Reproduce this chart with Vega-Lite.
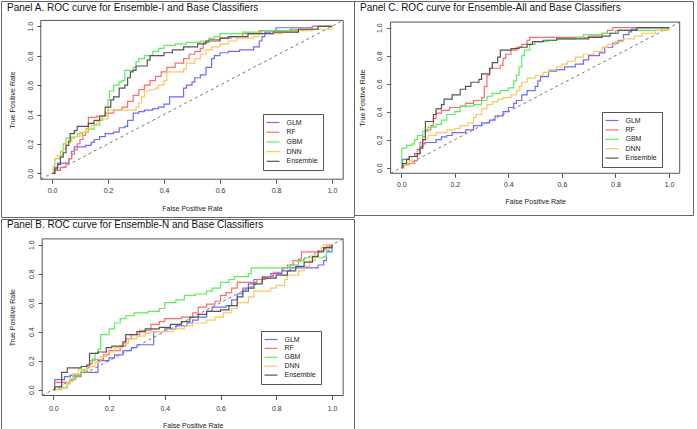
{
"$schema":"https://vega.github.io/schema/vega-lite/v6.json",
"padding":0,"spacing":0,"background":"white",
"config":{"view":{"stroke":"#666","strokeWidth":1},"font":"Liberation Sans",
"axis":{"labelFont":"Liberation Sans","titleFont":"Liberation Sans","labelFontSize":7,"titleFontSize":7,"titleFontWeight":"normal","labelColor":"#333","titleColor":"#222","tickColor":"#555","labelFlush":false,"labelOverlap":false,"domain":false,"grid":false,"format":".1f","tickSize":4},
"legend":{"labelFont":"Liberation Sans","labelFontSize":7,"labelColor":"#222","orient":"none","title":null,"symbolType":"M-2.6,0H2.6","symbolSize":25,"symbolStrokeWidth":1.2,"symbolOffset":1.5,"labelOffset":10,"padding":5,"strokeColor":"#555","fillColor":"white"},
"title":{"font":"Liberation Sans","fontSize":10,"fontWeight":"normal","color":"#111","anchor":"start","frame":"group","baseline":"alphabetic","dx":6}},
"datasets":{
"box":[{"x":-0.04,"x2":1.04,"y":-0.04,"y2":1.04}],
"diag":[{"x":-0.04,"y":-0.04},{"x":1.04,"y":1.04}],
"A":[
{"s":"GLM","x":0,"y":0},{"s":"GLM","x":0.01,"y":0.04},{"s":"GLM","x":0.02,"y":0.07},{"s":"GLM","x":0.05,"y":0.07},{"s":"GLM","x":0.06,"y":0.1},{"s":"GLM","x":0.07,"y":0.15},{"s":"GLM","x":0.08,"y":0.18},{"s":"GLM","x":0.11,"y":0.18},{"s":"GLM","x":0.12,"y":0.19},{"s":"GLM","x":0.14,"y":0.21},{"s":"GLM","x":0.15,"y":0.23},{"s":"GLM","x":0.17,"y":0.25},{"s":"GLM","x":0.19,"y":0.27},{"s":"GLM","x":0.22,"y":0.28},{"s":"GLM","x":0.24,"y":0.31},{"s":"GLM","x":0.26,"y":0.32},{"s":"GLM","x":0.27,"y":0.36},{"s":"GLM","x":0.29,"y":0.41},{"s":"GLM","x":0.31,"y":0.42},{"s":"GLM","x":0.33,"y":0.43},{"s":"GLM","x":0.36,"y":0.44},{"s":"GLM","x":0.38,"y":0.45},{"s":"GLM","x":0.4,"y":0.47},{"s":"GLM","x":0.42,"y":0.52},{"s":"GLM","x":0.47,"y":0.58},{"s":"GLM","x":0.48,"y":0.6},{"s":"GLM","x":0.5,"y":0.62},{"s":"GLM","x":0.51,"y":0.65},{"s":"GLM","x":0.53,"y":0.67},{"s":"GLM","x":0.55,"y":0.72},{"s":"GLM","x":0.57,"y":0.78},{"s":"GLM","x":0.58,"y":0.8},{"s":"GLM","x":0.6,"y":0.82},{"s":"GLM","x":0.63,"y":0.83},{"s":"GLM","x":0.67,"y":0.84},{"s":"GLM","x":0.72,"y":0.86},{"s":"GLM","x":0.74,"y":0.9},{"s":"GLM","x":0.75,"y":0.93},{"s":"GLM","x":0.76,"y":0.96},{"s":"GLM","x":0.78,"y":0.97},{"s":"GLM","x":0.8,"y":0.99},{"s":"GLM","x":0.93,"y":1},{"s":"GLM","x":1,"y":1},
{"s":"RF","x":0,"y":0},{"s":"RF","x":0.01,"y":0.02},{"s":"RF","x":0.03,"y":0.04},{"s":"RF","x":0.05,"y":0.07},{"s":"RF","x":0.06,"y":0.1},{"s":"RF","x":0.07,"y":0.13},{"s":"RF","x":0.08,"y":0.16},{"s":"RF","x":0.09,"y":0.2},{"s":"RF","x":0.1,"y":0.23},{"s":"RF","x":0.11,"y":0.26},{"s":"RF","x":0.12,"y":0.3},{"s":"RF","x":0.13,"y":0.38},{"s":"RF","x":0.16,"y":0.39},{"s":"RF","x":0.19,"y":0.41},{"s":"RF","x":0.22,"y":0.43},{"s":"RF","x":0.25,"y":0.45},{"s":"RF","x":0.27,"y":0.49},{"s":"RF","x":0.29,"y":0.53},{"s":"RF","x":0.31,"y":0.57},{"s":"RF","x":0.33,"y":0.6},{"s":"RF","x":0.35,"y":0.63},{"s":"RF","x":0.37,"y":0.66},{"s":"RF","x":0.39,"y":0.69},{"s":"RF","x":0.41,"y":0.72},{"s":"RF","x":0.44,"y":0.75},{"s":"RF","x":0.47,"y":0.78},{"s":"RF","x":0.49,"y":0.81},{"s":"RF","x":0.51,"y":0.83},{"s":"RF","x":0.53,"y":0.85},{"s":"RF","x":0.54,"y":0.89},{"s":"RF","x":0.56,"y":0.91},{"s":"RF","x":0.6,"y":0.92},{"s":"RF","x":0.64,"y":0.93},{"s":"RF","x":0.68,"y":0.95},{"s":"RF","x":0.74,"y":0.97},{"s":"RF","x":0.85,"y":0.98},{"s":"RF","x":0.93,"y":1},{"s":"RF","x":1,"y":1},
{"s":"GBM","x":0,"y":0},{"s":"GBM","x":0.005,"y":0.05},{"s":"GBM","x":0.01,"y":0.1},{"s":"GBM","x":0.03,"y":0.15},{"s":"GBM","x":0.04,"y":0.2},{"s":"GBM","x":0.05,"y":0.24},{"s":"GBM","x":0.08,"y":0.25},{"s":"GBM","x":0.09,"y":0.27},{"s":"GBM","x":0.11,"y":0.28},{"s":"GBM","x":0.13,"y":0.3},{"s":"GBM","x":0.15,"y":0.33},{"s":"GBM","x":0.17,"y":0.36},{"s":"GBM","x":0.18,"y":0.39},{"s":"GBM","x":0.2,"y":0.5},{"s":"GBM","x":0.205,"y":0.56},{"s":"GBM","x":0.22,"y":0.6},{"s":"GBM","x":0.24,"y":0.62},{"s":"GBM","x":0.25,"y":0.63},{"s":"GBM","x":0.26,"y":0.7},{"s":"GBM","x":0.29,"y":0.72},{"s":"GBM","x":0.3,"y":0.76},{"s":"GBM","x":0.31,"y":0.78},{"s":"GBM","x":0.33,"y":0.8},{"s":"GBM","x":0.36,"y":0.83},{"s":"GBM","x":0.38,"y":0.85},{"s":"GBM","x":0.4,"y":0.87},{"s":"GBM","x":0.44,"y":0.88},{"s":"GBM","x":0.48,"y":0.89},{"s":"GBM","x":0.53,"y":0.9},{"s":"GBM","x":0.56,"y":0.92},{"s":"GBM","x":0.58,"y":0.93},{"s":"GBM","x":0.6,"y":0.95},{"s":"GBM","x":0.68,"y":0.96},{"s":"GBM","x":0.75,"y":0.97},{"s":"GBM","x":0.9,"y":0.98},{"s":"GBM","x":0.95,"y":1},{"s":"GBM","x":1,"y":1},
{"s":"DNN","x":0,"y":0},{"s":"DNN","x":0.005,"y":0.05},{"s":"DNN","x":0.01,"y":0.1},{"s":"DNN","x":0.02,"y":0.12},{"s":"DNN","x":0.04,"y":0.17},{"s":"DNN","x":0.05,"y":0.21},{"s":"DNN","x":0.07,"y":0.25},{"s":"DNN","x":0.1,"y":0.28},{"s":"DNN","x":0.12,"y":0.3},{"s":"DNN","x":0.14,"y":0.33},{"s":"DNN","x":0.16,"y":0.35},{"s":"DNN","x":0.17,"y":0.37},{"s":"DNN","x":0.2,"y":0.43},{"s":"DNN","x":0.3,"y":0.45},{"s":"DNN","x":0.31,"y":0.48},{"s":"DNN","x":0.32,"y":0.52},{"s":"DNN","x":0.33,"y":0.56},{"s":"DNN","x":0.35,"y":0.57},{"s":"DNN","x":0.37,"y":0.58},{"s":"DNN","x":0.38,"y":0.6},{"s":"DNN","x":0.4,"y":0.63},{"s":"DNN","x":0.41,"y":0.69},{"s":"DNN","x":0.47,"y":0.71},{"s":"DNN","x":0.48,"y":0.75},{"s":"DNN","x":0.51,"y":0.78},{"s":"DNN","x":0.53,"y":0.81},{"s":"DNN","x":0.55,"y":0.84},{"s":"DNN","x":0.57,"y":0.86},{"s":"DNN","x":0.6,"y":0.88},{"s":"DNN","x":0.63,"y":0.9},{"s":"DNN","x":0.66,"y":0.92},{"s":"DNN","x":0.72,"y":0.93},{"s":"DNN","x":0.74,"y":0.95},{"s":"DNN","x":0.82,"y":0.96},{"s":"DNN","x":0.88,"y":0.97},{"s":"DNN","x":0.93,"y":0.98},{"s":"DNN","x":1,"y":1},
{"s":"Ensemble","x":0,"y":0},{"s":"Ensemble","x":0.01,"y":0.03},{"s":"Ensemble","x":0.02,"y":0.06},{"s":"Ensemble","x":0.03,"y":0.11},{"s":"Ensemble","x":0.04,"y":0.14},{"s":"Ensemble","x":0.05,"y":0.19},{"s":"Ensemble","x":0.06,"y":0.22},{"s":"Ensemble","x":0.065,"y":0.27},{"s":"Ensemble","x":0.08,"y":0.29},{"s":"Ensemble","x":0.09,"y":0.32},{"s":"Ensemble","x":0.12,"y":0.32},{"s":"Ensemble","x":0.13,"y":0.34},{"s":"Ensemble","x":0.15,"y":0.36},{"s":"Ensemble","x":0.17,"y":0.39},{"s":"Ensemble","x":0.19,"y":0.45},{"s":"Ensemble","x":0.21,"y":0.5},{"s":"Ensemble","x":0.22,"y":0.52},{"s":"Ensemble","x":0.24,"y":0.58},{"s":"Ensemble","x":0.26,"y":0.6},{"s":"Ensemble","x":0.27,"y":0.65},{"s":"Ensemble","x":0.28,"y":0.69},{"s":"Ensemble","x":0.29,"y":0.7},{"s":"Ensemble","x":0.3,"y":0.73},{"s":"Ensemble","x":0.34,"y":0.77},{"s":"Ensemble","x":0.35,"y":0.8},{"s":"Ensemble","x":0.4,"y":0.82},{"s":"Ensemble","x":0.43,"y":0.84},{"s":"Ensemble","x":0.47,"y":0.86},{"s":"Ensemble","x":0.52,"y":0.88},{"s":"Ensemble","x":0.55,"y":0.9},{"s":"Ensemble","x":0.6,"y":0.92},{"s":"Ensemble","x":0.63,"y":0.93},{"s":"Ensemble","x":0.7,"y":0.95},{"s":"Ensemble","x":0.79,"y":0.96},{"s":"Ensemble","x":0.88,"y":0.98},{"s":"Ensemble","x":0.95,"y":1},{"s":"Ensemble","x":1,"y":1}
],
"C":[
{"s":"GLM","x":0,"y":0},{"s":"GLM","x":0.005,"y":0.06},{"s":"GLM","x":0.03,"y":0.08},{"s":"GLM","x":0.05,"y":0.1},{"s":"GLM","x":0.06,"y":0.13},{"s":"GLM","x":0.07,"y":0.15},{"s":"GLM","x":0.08,"y":0.17},{"s":"GLM","x":0.09,"y":0.18},{"s":"GLM","x":0.13,"y":0.2},{"s":"GLM","x":0.15,"y":0.22},{"s":"GLM","x":0.17,"y":0.23},{"s":"GLM","x":0.19,"y":0.25},{"s":"GLM","x":0.24,"y":0.27},{"s":"GLM","x":0.27,"y":0.3},{"s":"GLM","x":0.3,"y":0.32},{"s":"GLM","x":0.33,"y":0.34},{"s":"GLM","x":0.35,"y":0.37},{"s":"GLM","x":0.38,"y":0.4},{"s":"GLM","x":0.4,"y":0.43},{"s":"GLM","x":0.42,"y":0.46},{"s":"GLM","x":0.43,"y":0.48},{"s":"GLM","x":0.45,"y":0.52},{"s":"GLM","x":0.47,"y":0.55},{"s":"GLM","x":0.5,"y":0.58},{"s":"GLM","x":0.51,"y":0.62},{"s":"GLM","x":0.52,"y":0.65},{"s":"GLM","x":0.55,"y":0.69},{"s":"GLM","x":0.58,"y":0.7},{"s":"GLM","x":0.61,"y":0.72},{"s":"GLM","x":0.65,"y":0.74},{"s":"GLM","x":0.68,"y":0.77},{"s":"GLM","x":0.7,"y":0.8},{"s":"GLM","x":0.74,"y":0.82},{"s":"GLM","x":0.76,"y":0.86},{"s":"GLM","x":0.79,"y":0.89},{"s":"GLM","x":0.81,"y":0.91},{"s":"GLM","x":0.83,"y":0.95},{"s":"GLM","x":0.85,"y":0.97},{"s":"GLM","x":0.86,"y":0.99},{"s":"GLM","x":0.88,"y":1},{"s":"GLM","x":1,"y":1},
{"s":"RF","x":0,"y":0},{"s":"RF","x":0.01,"y":0.02},{"s":"RF","x":0.03,"y":0.03},{"s":"RF","x":0.05,"y":0.05},{"s":"RF","x":0.06,"y":0.1},{"s":"RF","x":0.07,"y":0.18},{"s":"RF","x":0.08,"y":0.22},{"s":"RF","x":0.09,"y":0.27},{"s":"RF","x":0.11,"y":0.3},{"s":"RF","x":0.12,"y":0.35},{"s":"RF","x":0.13,"y":0.39},{"s":"RF","x":0.15,"y":0.41},{"s":"RF","x":0.18,"y":0.43},{"s":"RF","x":0.22,"y":0.44},{"s":"RF","x":0.24,"y":0.46},{"s":"RF","x":0.27,"y":0.48},{"s":"RF","x":0.3,"y":0.5},{"s":"RF","x":0.31,"y":0.58},{"s":"RF","x":0.32,"y":0.66},{"s":"RF","x":0.33,"y":0.71},{"s":"RF","x":0.37,"y":0.73},{"s":"RF","x":0.38,"y":0.78},{"s":"RF","x":0.39,"y":0.81},{"s":"RF","x":0.41,"y":0.84},{"s":"RF","x":0.43,"y":0.86},{"s":"RF","x":0.45,"y":0.88},{"s":"RF","x":0.47,"y":0.91},{"s":"RF","x":0.48,"y":0.93},{"s":"RF","x":0.7,"y":0.94},{"s":"RF","x":0.75,"y":0.96},{"s":"RF","x":0.77,"y":0.98},{"s":"RF","x":0.79,"y":1},{"s":"RF","x":1,"y":1},
{"s":"GBM","x":0,"y":0},{"s":"GBM","x":0.002,"y":0.14},{"s":"GBM","x":0.02,"y":0.16},{"s":"GBM","x":0.04,"y":0.17},{"s":"GBM","x":0.05,"y":0.2},{"s":"GBM","x":0.06,"y":0.23},{"s":"GBM","x":0.08,"y":0.26},{"s":"GBM","x":0.1,"y":0.29},{"s":"GBM","x":0.13,"y":0.31},{"s":"GBM","x":0.15,"y":0.34},{"s":"GBM","x":0.17,"y":0.38},{"s":"GBM","x":0.2,"y":0.4},{"s":"GBM","x":0.22,"y":0.44},{"s":"GBM","x":0.27,"y":0.45},{"s":"GBM","x":0.3,"y":0.48},{"s":"GBM","x":0.32,"y":0.51},{"s":"GBM","x":0.34,"y":0.53},{"s":"GBM","x":0.37,"y":0.55},{"s":"GBM","x":0.4,"y":0.57},{"s":"GBM","x":0.42,"y":0.62},{"s":"GBM","x":0.43,"y":0.66},{"s":"GBM","x":0.44,"y":0.72},{"s":"GBM","x":0.45,"y":0.8},{"s":"GBM","x":0.46,"y":0.84},{"s":"GBM","x":0.48,"y":0.88},{"s":"GBM","x":0.5,"y":0.9},{"s":"GBM","x":0.55,"y":0.91},{"s":"GBM","x":0.58,"y":0.92},{"s":"GBM","x":0.65,"y":0.93},{"s":"GBM","x":0.68,"y":0.95},{"s":"GBM","x":0.75,"y":0.96},{"s":"GBM","x":0.8,"y":0.98},{"s":"GBM","x":0.97,"y":0.99},{"s":"GBM","x":1,"y":1},
{"s":"DNN","x":0,"y":0},{"s":"DNN","x":0.01,"y":0.02},{"s":"DNN","x":0.03,"y":0.05},{"s":"DNN","x":0.04,"y":0.08},{"s":"DNN","x":0.06,"y":0.12},{"s":"DNN","x":0.07,"y":0.16},{"s":"DNN","x":0.08,"y":0.2},{"s":"DNN","x":0.1,"y":0.23},{"s":"DNN","x":0.13,"y":0.25},{"s":"DNN","x":0.17,"y":0.27},{"s":"DNN","x":0.2,"y":0.28},{"s":"DNN","x":0.22,"y":0.3},{"s":"DNN","x":0.25,"y":0.32},{"s":"DNN","x":0.27,"y":0.36},{"s":"DNN","x":0.28,"y":0.38},{"s":"DNN","x":0.3,"y":0.42},{"s":"DNN","x":0.32,"y":0.45},{"s":"DNN","x":0.34,"y":0.47},{"s":"DNN","x":0.36,"y":0.49},{"s":"DNN","x":0.38,"y":0.5},{"s":"DNN","x":0.41,"y":0.52},{"s":"DNN","x":0.43,"y":0.55},{"s":"DNN","x":0.44,"y":0.58},{"s":"DNN","x":0.45,"y":0.61},{"s":"DNN","x":0.47,"y":0.64},{"s":"DNN","x":0.5,"y":0.66},{"s":"DNN","x":0.53,"y":0.68},{"s":"DNN","x":0.55,"y":0.7},{"s":"DNN","x":0.58,"y":0.72},{"s":"DNN","x":0.6,"y":0.74},{"s":"DNN","x":0.62,"y":0.76},{"s":"DNN","x":0.65,"y":0.79},{"s":"DNN","x":0.68,"y":0.81},{"s":"DNN","x":0.72,"y":0.83},{"s":"DNN","x":0.75,"y":0.86},{"s":"DNN","x":0.77,"y":0.88},{"s":"DNN","x":0.8,"y":0.9},{"s":"DNN","x":0.83,"y":0.92},{"s":"DNN","x":0.87,"y":0.94},{"s":"DNN","x":0.9,"y":0.96},{"s":"DNN","x":0.95,"y":0.98},{"s":"DNN","x":1,"y":1},
{"s":"Ensemble","x":0,"y":0},{"s":"Ensemble","x":0.005,"y":0.03},{"s":"Ensemble","x":0.02,"y":0.06},{"s":"Ensemble","x":0.03,"y":0.08},{"s":"Ensemble","x":0.06,"y":0.1},{"s":"Ensemble","x":0.07,"y":0.14},{"s":"Ensemble","x":0.08,"y":0.2},{"s":"Ensemble","x":0.09,"y":0.33},{"s":"Ensemble","x":0.11,"y":0.33},{"s":"Ensemble","x":0.12,"y":0.38},{"s":"Ensemble","x":0.13,"y":0.42},{"s":"Ensemble","x":0.15,"y":0.45},{"s":"Ensemble","x":0.16,"y":0.49},{"s":"Ensemble","x":0.19,"y":0.52},{"s":"Ensemble","x":0.22,"y":0.56},{"s":"Ensemble","x":0.24,"y":0.58},{"s":"Ensemble","x":0.26,"y":0.61},{"s":"Ensemble","x":0.29,"y":0.63},{"s":"Ensemble","x":0.3,"y":0.67},{"s":"Ensemble","x":0.33,"y":0.71},{"s":"Ensemble","x":0.34,"y":0.75},{"s":"Ensemble","x":0.36,"y":0.79},{"s":"Ensemble","x":0.37,"y":0.84},{"s":"Ensemble","x":0.41,"y":0.85},{"s":"Ensemble","x":0.44,"y":0.86},{"s":"Ensemble","x":0.47,"y":0.88},{"s":"Ensemble","x":0.49,"y":0.9},{"s":"Ensemble","x":0.53,"y":0.91},{"s":"Ensemble","x":0.58,"y":0.92},{"s":"Ensemble","x":0.7,"y":0.93},{"s":"Ensemble","x":0.75,"y":0.94},{"s":"Ensemble","x":0.78,"y":0.96},{"s":"Ensemble","x":0.81,"y":0.98},{"s":"Ensemble","x":0.88,"y":1},{"s":"Ensemble","x":1,"y":1}
],
"B":[
{"s":"GLM","x":0,"y":0},{"s":"GLM","x":0.005,"y":0.07},{"s":"GLM","x":0.03,"y":0.07},{"s":"GLM","x":0.04,"y":0.09},{"s":"GLM","x":0.06,"y":0.1},{"s":"GLM","x":0.1,"y":0.12},{"s":"GLM","x":0.16,"y":0.2},{"s":"GLM","x":0.2,"y":0.22},{"s":"GLM","x":0.22,"y":0.24},{"s":"GLM","x":0.25,"y":0.27},{"s":"GLM","x":0.28,"y":0.29},{"s":"GLM","x":0.3,"y":0.31},{"s":"GLM","x":0.36,"y":0.4},{"s":"GLM","x":0.4,"y":0.42},{"s":"GLM","x":0.44,"y":0.44},{"s":"GLM","x":0.48,"y":0.46},{"s":"GLM","x":0.5,"y":0.48},{"s":"GLM","x":0.52,"y":0.5},{"s":"GLM","x":0.55,"y":0.54},{"s":"GLM","x":0.57,"y":0.57},{"s":"GLM","x":0.62,"y":0.58},{"s":"GLM","x":0.64,"y":0.62},{"s":"GLM","x":0.66,"y":0.66},{"s":"GLM","x":0.68,"y":0.7},{"s":"GLM","x":0.7,"y":0.73},{"s":"GLM","x":0.72,"y":0.76},{"s":"GLM","x":0.75,"y":0.78},{"s":"GLM","x":0.78,"y":0.8},{"s":"GLM","x":0.82,"y":0.82},{"s":"GLM","x":0.85,"y":0.84},{"s":"GLM","x":0.95,"y":0.86},{"s":"GLM","x":0.97,"y":0.89},{"s":"GLM","x":0.98,"y":0.95},{"s":"GLM","x":1,"y":1},
{"s":"RF","x":0,"y":0},{"s":"RF","x":0.005,"y":0.05},{"s":"RF","x":0.06,"y":0.06},{"s":"RF","x":0.07,"y":0.09},{"s":"RF","x":0.1,"y":0.12},{"s":"RF","x":0.12,"y":0.15},{"s":"RF","x":0.13,"y":0.18},{"s":"RF","x":0.14,"y":0.21},{"s":"RF","x":0.18,"y":0.24},{"s":"RF","x":0.2,"y":0.27},{"s":"RF","x":0.24,"y":0.3},{"s":"RF","x":0.26,"y":0.35},{"s":"RF","x":0.28,"y":0.38},{"s":"RF","x":0.31,"y":0.41},{"s":"RF","x":0.35,"y":0.45},{"s":"RF","x":0.38,"y":0.47},{"s":"RF","x":0.4,"y":0.49},{"s":"RF","x":0.46,"y":0.5},{"s":"RF","x":0.5,"y":0.53},{"s":"RF","x":0.52,"y":0.57},{"s":"RF","x":0.55,"y":0.59},{"s":"RF","x":0.58,"y":0.61},{"s":"RF","x":0.6,"y":0.65},{"s":"RF","x":0.62,"y":0.67},{"s":"RF","x":0.64,"y":0.7},{"s":"RF","x":0.66,"y":0.74},{"s":"RF","x":0.73,"y":0.76},{"s":"RF","x":0.76,"y":0.78},{"s":"RF","x":0.79,"y":0.81},{"s":"RF","x":0.82,"y":0.84},{"s":"RF","x":0.84,"y":0.86},{"s":"RF","x":0.86,"y":0.89},{"s":"RF","x":0.88,"y":0.9},{"s":"RF","x":0.89,"y":0.95},{"s":"RF","x":0.95,"y":0.96},{"s":"RF","x":0.97,"y":0.97},{"s":"RF","x":0.98,"y":0.99},{"s":"RF","x":1,"y":1},
{"s":"GBM","x":0,"y":0},{"s":"GBM","x":0.02,"y":0.01},{"s":"GBM","x":0.05,"y":0.04},{"s":"GBM","x":0.06,"y":0.07},{"s":"GBM","x":0.08,"y":0.1},{"s":"GBM","x":0.1,"y":0.13},{"s":"GBM","x":0.12,"y":0.16},{"s":"GBM","x":0.13,"y":0.2},{"s":"GBM","x":0.15,"y":0.25},{"s":"GBM","x":0.16,"y":0.28},{"s":"GBM","x":0.17,"y":0.38},{"s":"GBM","x":0.2,"y":0.42},{"s":"GBM","x":0.22,"y":0.46},{"s":"GBM","x":0.24,"y":0.49},{"s":"GBM","x":0.26,"y":0.51},{"s":"GBM","x":0.29,"y":0.53},{"s":"GBM","x":0.34,"y":0.54},{"s":"GBM","x":0.38,"y":0.56},{"s":"GBM","x":0.4,"y":0.6},{"s":"GBM","x":0.44,"y":0.62},{"s":"GBM","x":0.47,"y":0.65},{"s":"GBM","x":0.51,"y":0.66},{"s":"GBM","x":0.55,"y":0.68},{"s":"GBM","x":0.57,"y":0.7},{"s":"GBM","x":0.6,"y":0.74},{"s":"GBM","x":0.63,"y":0.76},{"s":"GBM","x":0.65,"y":0.78},{"s":"GBM","x":0.7,"y":0.8},{"s":"GBM","x":0.71,"y":0.84},{"s":"GBM","x":0.83,"y":0.84},{"s":"GBM","x":0.85,"y":0.86},{"s":"GBM","x":0.88,"y":0.89},{"s":"GBM","x":0.9,"y":0.91},{"s":"GBM","x":0.97,"y":0.92},{"s":"GBM","x":0.98,"y":0.96},{"s":"GBM","x":0.99,"y":0.98},{"s":"GBM","x":1,"y":1},
{"s":"DNN","x":0,"y":0},{"s":"DNN","x":0.03,"y":0.02},{"s":"DNN","x":0.05,"y":0.05},{"s":"DNN","x":0.06,"y":0.08},{"s":"DNN","x":0.07,"y":0.11},{"s":"DNN","x":0.09,"y":0.14},{"s":"DNN","x":0.12,"y":0.16},{"s":"DNN","x":0.15,"y":0.19},{"s":"DNN","x":0.17,"y":0.23},{"s":"DNN","x":0.19,"y":0.26},{"s":"DNN","x":0.22,"y":0.29},{"s":"DNN","x":0.25,"y":0.32},{"s":"DNN","x":0.27,"y":0.35},{"s":"DNN","x":0.3,"y":0.37},{"s":"DNN","x":0.33,"y":0.39},{"s":"DNN","x":0.35,"y":0.4},{"s":"DNN","x":0.43,"y":0.42},{"s":"DNN","x":0.47,"y":0.44},{"s":"DNN","x":0.5,"y":0.46},{"s":"DNN","x":0.55,"y":0.48},{"s":"DNN","x":0.58,"y":0.5},{"s":"DNN","x":0.61,"y":0.53},{"s":"DNN","x":0.64,"y":0.56},{"s":"DNN","x":0.66,"y":0.6},{"s":"DNN","x":0.7,"y":0.64},{"s":"DNN","x":0.72,"y":0.68},{"s":"DNN","x":0.78,"y":0.7},{"s":"DNN","x":0.8,"y":0.72},{"s":"DNN","x":0.83,"y":0.76},{"s":"DNN","x":0.84,"y":0.79},{"s":"DNN","x":0.88,"y":0.82},{"s":"DNN","x":0.9,"y":0.85},{"s":"DNN","x":0.92,"y":0.89},{"s":"DNN","x":0.94,"y":0.92},{"s":"DNN","x":0.95,"y":0.95},{"s":"DNN","x":0.96,"y":0.98},{"s":"DNN","x":0.97,"y":1},{"s":"DNN","x":1,"y":1},
{"s":"Ensemble","x":0,"y":0},{"s":"Ensemble","x":0.005,"y":0.02},{"s":"Ensemble","x":0.02,"y":0.02},{"s":"Ensemble","x":0.03,"y":0.12},{"s":"Ensemble","x":0.05,"y":0.15},{"s":"Ensemble","x":0.1,"y":0.16},{"s":"Ensemble","x":0.12,"y":0.17},{"s":"Ensemble","x":0.13,"y":0.25},{"s":"Ensemble","x":0.16,"y":0.26},{"s":"Ensemble","x":0.19,"y":0.29},{"s":"Ensemble","x":0.21,"y":0.3},{"s":"Ensemble","x":0.25,"y":0.33},{"s":"Ensemble","x":0.26,"y":0.38},{"s":"Ensemble","x":0.3,"y":0.4},{"s":"Ensemble","x":0.33,"y":0.42},{"s":"Ensemble","x":0.38,"y":0.43},{"s":"Ensemble","x":0.42,"y":0.45},{"s":"Ensemble","x":0.46,"y":0.47},{"s":"Ensemble","x":0.49,"y":0.5},{"s":"Ensemble","x":0.52,"y":0.52},{"s":"Ensemble","x":0.55,"y":0.54},{"s":"Ensemble","x":0.6,"y":0.55},{"s":"Ensemble","x":0.63,"y":0.58},{"s":"Ensemble","x":0.66,"y":0.64},{"s":"Ensemble","x":0.68,"y":0.68},{"s":"Ensemble","x":0.7,"y":0.7},{"s":"Ensemble","x":0.72,"y":0.73},{"s":"Ensemble","x":0.75,"y":0.77},{"s":"Ensemble","x":0.8,"y":0.79},{"s":"Ensemble","x":0.84,"y":0.82},{"s":"Ensemble","x":0.87,"y":0.85},{"s":"Ensemble","x":0.9,"y":0.88},{"s":"Ensemble","x":0.93,"y":0.92},{"s":"Ensemble","x":0.95,"y":0.95},{"s":"Ensemble","x":0.97,"y":0.98},{"s":"Ensemble","x":1,"y":1}
]},
"resolve":{"scale":{"x":"independent","y":"independent","color":"independent"},"legend":{"color":"independent"},"axis":{"x":"independent","y":"independent"}},
"vconcat":[
{"hconcat":[
{"width":353,"height":216,
"title":{"text":"Panel A. ROC curve for Ensemble-I and Base Classifiers","offset":-12},
"encoding":{"x":{"field":"x","type":"quantitative","scale":{"domain":[-0.1821,1.0786],"nice":false,"zero":false},"axis":{"values":[0,0.2,0.4,0.6,0.8,1],"offset":-37.8,"labelPadding":3,"title":"False Positive Rate","titleX":191,"titleY":29,"titleBaseline":"middle","titleAlign":"center","titleAngle":0}},
"y":{"field":"y","type":"quantitative","scale":{"domain":[-0.297,1.172],"nice":false,"zero":false},"axis":{"values":[0,0.2,0.4,0.6,0.8,1],"offset":-39.8,"labelAngle":270,"labelAlign":"center","labelBaseline":"bottom","labelPadding":3.5,"title":"True Positive Rate","titleX":-28,"titleY":98.5,"titleAngle":270,"titleBaseline":"middle","titleAlign":"center"}}},
"layer":[
{"data":{"name":"box"},"mark":{"type":"rect","filled":false,"stroke":"#555","strokeWidth":1},"encoding":{"x2":{"field":"x2"},"y2":{"field":"y2"}}},
{"data":{"name":"diag"},"mark":{"type":"line","strokeDash":[3,3],"color":"#555","strokeWidth":0.8},"encoding":{}},
{"data":{"name":"A"},"mark":{"type":"line","interpolate":"step-after","strokeWidth":1.2},"encoding":{"color":{"field":"s","type":"nominal","scale":{"domain":["GLM","RF","GBM","DNN","Ensemble"],"range":["#6b6bff","#ff6b6b","#5ded5d","#ffc65c","#555555"]},"legend":{"legendX":262,"legendY":113,"rowPadding":1.7}}}}
]},
{"width":339,"height":214,
"title":{"text":"Panel C. ROC curve for Ensemble-All and Base Classifiers","offset":-11.7},
"encoding":{"x":{"field":"x","type":"quantitative","scale":{"domain":[-0.1767,1.0897],"nice":false,"zero":false},"axis":{"values":[0,0.2,0.4,0.6,0.8,1],"offset":-41.7,"labelPadding":3,"title":"False Positive Rate","titleX":181.2,"titleY":28,"titleBaseline":"middle","titleAlign":"center","titleAngle":0}},
"y":{"field":"y","type":"quantitative","scale":{"domain":[-0.338,1.1905],"nice":false,"zero":false},"axis":{"values":[0,0.2,0.4,0.6,0.8,1],"offset":-36.6,"labelAngle":270,"labelAlign":"center","labelBaseline":"bottom","labelPadding":4,"title":"True Positive Rate","titleX":-28.3,"titleY":96.7,"titleAngle":270,"titleBaseline":"middle","titleAlign":"center"}}},
"layer":[
{"data":{"name":"box"},"mark":{"type":"rect","filled":false,"stroke":"#555","strokeWidth":1},"encoding":{"x2":{"field":"x2"},"y2":{"field":"y2"}}},
{"data":{"name":"diag"},"mark":{"type":"line","strokeDash":[3,3],"color":"#555","strokeWidth":0.8},"encoding":{}},
{"data":{"name":"C"},"mark":{"type":"line","interpolate":"step-after","strokeWidth":1.2},"encoding":{"color":{"field":"s","type":"nominal","scale":{"domain":["GLM","RF","GBM","DNN","Ensemble"],"range":["#6b6bff","#ff6b6b","#5ded5d","#ffc65c","#555555"]},"legend":{"legendX":248,"legendY":111,"rowPadding":1.4}}}}
]}
],"spacing":0,"bounds":"flush",
"resolve":{"scale":{"x":"independent","y":"independent","color":"independent"},"legend":{"color":"independent"},"axis":{"x":"independent","y":"independent"}}},
{"width":353,"height":212,
"title":{"text":"Panel B. ROC curve for Ensemble-N and Base Classifiers","offset":-10.7},
"encoding":{"x":{"field":"x","type":"quantitative","scale":{"domain":[-0.1877,1.0789],"nice":false,"zero":false},"axis":{"values":[0,0.2,0.4,0.6,0.8,1],"offset":-35.5,"labelPadding":5,"title":"False Positive Rate","titleX":191.7,"titleY":29.8,"titleBaseline":"middle","titleAlign":"center","titleAngle":0}},
"y":{"field":"y","type":"quantitative","scale":{"domain":[-0.2848,1.1772],"nice":false,"zero":false},"axis":{"values":[0,0.2,0.4,0.6,0.8,1],"offset":-41.15,"labelAngle":270,"labelAlign":"center","labelBaseline":"bottom","labelPadding":3.5,"title":"True Positive Rate","titleX":-29.5,"titleY":98.2,"titleAngle":270,"titleBaseline":"middle","titleAlign":"center"}}},
"layer":[
{"data":{"name":"box"},"mark":{"type":"rect","filled":false,"stroke":"#555","strokeWidth":1},"encoding":{"x2":{"field":"x2"},"y2":{"field":"y2"}}},
{"data":{"name":"diag"},"mark":{"type":"line","strokeDash":[3,3],"color":"#555","strokeWidth":0.8},"encoding":{}},
{"data":{"name":"B"},"mark":{"type":"line","interpolate":"step-after","strokeWidth":1.2},"encoding":{"color":{"field":"s","type":"nominal","scale":{"domain":["GLM","RF","GBM","DNN","Ensemble"],"range":["#6b6bff","#ff6b6b","#5ded5d","#ffc65c","#555555"]},"legend":{"legendX":260,"legendY":112,"rowPadding":0.9}}}}
]}
]}
